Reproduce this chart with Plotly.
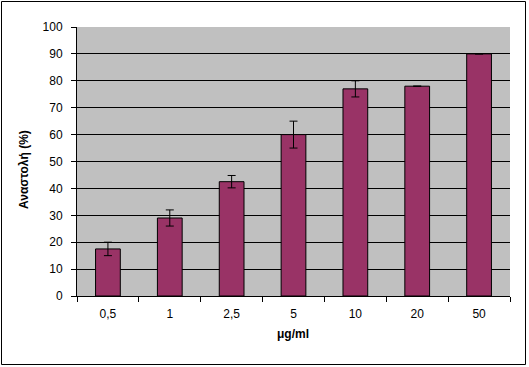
import plotly.graph_objects as go

categories = ["0,5", "1", "2,5", "5", "10", "20", "50"]
values = [17.5, 29.0, 42.5, 60.0, 77.0, 78.0, 90.0]
errors = [2.5, 3.0, 2.3, 5.0, 3.0, None, None]
y_ticks = [0, 10, 20, 30, 40, 50, 60, 70, 80, 90, 100]
x_title = "μg/ml"
y_title = "Αναστολή (%)"

font_family = "Liberation Sans, Arial, sans-serif"

fig = go.Figure()
fig.add_trace(go.Bar(
    x=categories,
    y=values,
    width=0.4,
    marker=dict(color="#993366", line=dict(color="black", width=1)),
    error_y=dict(type="data", array=errors, visible=True, color="black",
                 thickness=1, width=4),
))

L, R, T, B = 77, 19, 27, 71
W, H = 529, 367
pw, ph = W - L - R, H - T - B

def px_x(p):
    return (p - L) / pw

def px_y(p):
    return (T + ph - p) / ph

fig.update_layout(
    width=W, height=H,
    margin=dict(l=L, r=R, t=T, b=B, pad=0, autoexpand=False),
    paper_bgcolor="white",
    plot_bgcolor="#C0C0C0",
    showlegend=False,
    font=dict(family=font_family, size=12, color="black"),
    xaxis=dict(
        type="category",
        tickson="boundaries",
        ticks="outside", ticklen=5, tickcolor="black", tickwidth=1,
        showline=True, linecolor="black", linewidth=1,
        showgrid=False, automargin=False,
        ticklabelstandoff=7,
        tickfont=dict(size=12, family=font_family),
    ),
    yaxis=dict(
        range=[0, 100],
        tickvals=y_ticks,
        ticks="outside", ticklen=5, tickcolor="black", tickwidth=1,
        showline=True, linecolor="black", linewidth=1,
        showgrid=True, gridcolor="black", gridwidth=1,
        zeroline=False, automargin=False,
        ticklabelstandoff=6,
        tickfont=dict(size=12, family=font_family),
    ),
    annotations=[
        dict(text="<b>" + x_title + "</b>", xref="paper", yref="paper",
             x=px_x(293), y=px_y(334), showarrow=False,
             font=dict(size=12, family=font_family), xanchor="center", yanchor="middle"),
        dict(text="<b>" + y_title + "</b>", xref="paper", yref="paper",
             x=px_x(24), y=px_y(170), showarrow=False, textangle=-90,
             font=dict(size=12, family=font_family), xanchor="center", yanchor="middle"),
    ],
    shapes=[dict(
        type="rect", xref="paper", yref="paper",
        x0=px_x(1.5), x1=px_x(525.5),
        y0=px_y(364.5), y1=px_y(1.5),
        line=dict(color="black", width=1), fillcolor="rgba(0,0,0,0)",
        layer="below",
    )],
)

fig.write_html("out.html", config={"displayModeBar": False},
               post_script="document.body.style.margin='0px';document.body.style.overflow='hidden';")
